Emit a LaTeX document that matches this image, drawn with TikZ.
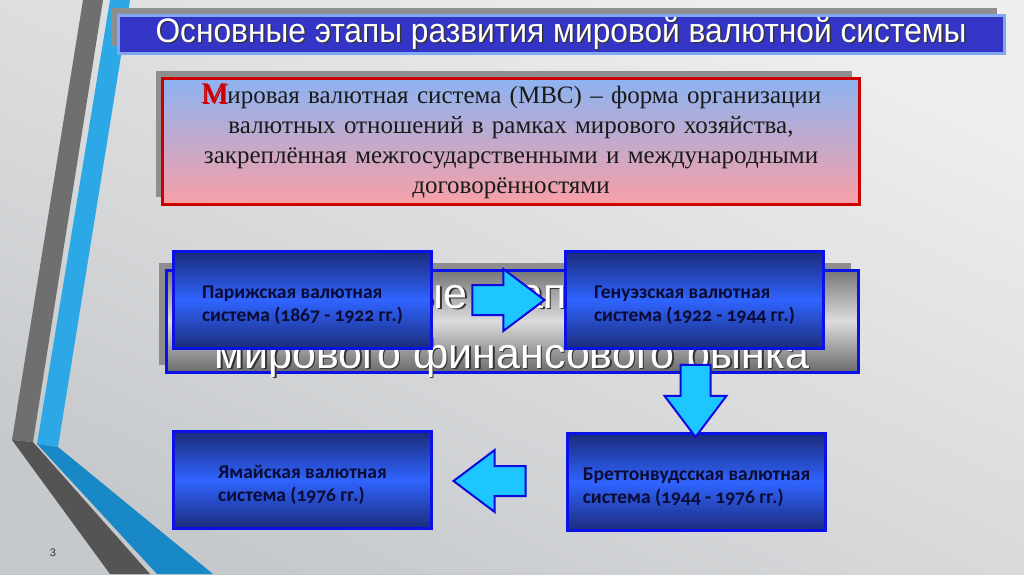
\documentclass[tikz,border=0pt]{standalone}
\usepackage{fontspec}
\setmainfont{Liberation Serif}
\newfontfamily\headfont{Liberation Sans}
\newfontfamily\stagefont[Numbers=OldStyle]{Carlito}
\usetikzlibrary{shapes.arrows,shadows,calc}

\definecolor{bgtop}{HTML}{EEEEEE}
\definecolor{bgbot}{HTML}{C6C9CC}
\definecolor{stripegray}{HTML}{6F6F6F}
\definecolor{stripegraydark}{HTML}{545454}
\definecolor{stripeblue}{HTML}{2CA8E6}
\definecolor{stripebluedark}{HTML}{1888C6}
\definecolor{shadowgray}{HTML}{8E8E8E}
\definecolor{barfill}{HTML}{3434C6}
\definecolor{barrim}{HTML}{80A8F2}
\definecolor{defred}{HTML}{CC0000}
\definecolor{deftop}{HTML}{8CB3F2}
\definecolor{defbot}{HTML}{F8A0A6}
\definecolor{deftext}{HTML}{1A1A1A}
\definecolor{marketdark}{HTML}{767676}
\definecolor{marketlight}{HTML}{DCDCDC}
\definecolor{stagerim}{HTML}{0A12E8}
\definecolor{stagedark}{HTML}{1B2B7A}
\definecolor{stagelight}{HTML}{2F64FF}
\definecolor{stagetext}{HTML}{0B0B33}
\definecolor{arrowcyan}{HTML}{1EC6FF}
\definecolor{arrowrim}{HTML}{0A0AE0}

% text with a small dark shadow
\newcommand{\dropped}[2][black!80]{\makebox[0pt][l]{\hspace{1.5pt}\raisebox{-1.5pt}{\textcolor{#1}{#2}}}#2}

\tikzset{
  slideshadow/.style={general shadow={shadow xshift=-7pt, shadow yshift=7pt, fill=shadowgray}},
  titlebar/.style={draw=barrim, line width=3pt, fill=barfill, minimum width=886pt, minimum height=38pt,
    inner sep=0pt, text=white, font=\headfont\fontsize{34}{34}\selectfont},
  defbox/.style={draw=defred, line width=3pt, top color=deftop, bottom color=defbot,
    minimum width=690pt, minimum height=126pt, text width=690pt, align=center, text=deftext,
    font=\fontsize{25}{30}\selectfont},
  marketbox/.style={draw=stagerim, line width=3pt, top color=marketdark,
    bottom color=marketdark!90!black, middle color=marketlight, minimum width=692pt, minimum height=102pt},
  markettext/.style={anchor=base, text=white, inner sep=0pt, font=\headfont\fontsize{43}{43}\selectfont},
  stagebox/.style={draw=stagerim, line width=3pt, top color=stagedark, bottom color=stagedark,
    middle color=stagelight, minimum width=258pt, minimum height=97pt, align=left, text=stagetext,
    text height=47pt, text depth=5pt, font=\stagefont\bfseries\fontsize{19.5}{23}\selectfont},
  blockarrow/.style={single arrow, draw=arrowrim, line width=2pt, fill=arrowcyan,
    minimum height=72pt, minimum width=60pt, inner xsep=0pt, inner ysep=14pt,
    single arrow head extend=16pt, single arrow tip angle=74}
}

\begin{document}
\begin{tikzpicture}[x=1pt, y=1pt]

\useasboundingbox (0,0) rectangle (1024,-574);
\shade[top color=bgtop, bottom color=bgbot, shading angle=-25] (0,0) rectangle (1024,-574);

% stripes on the left
\fill[stripegray] (83,0)--(103,0)--(33,-442)--(12,-440)--cycle;
\fill[stripegraydark] (12,-440)--(33,-442)--(150,-574)--(110,-574)--cycle;
\fill[stripeblue] (110,0)--(130,0)--(58,-447)--(37,-444)--cycle;
\fill[stripebluedark] (37,-444)--(58,-447)--(213,-574)--(157,-574)--cycle;

\node[titlebar, slideshadow] (title) at (561,-34)
  {\resizebox{811pt}{\height}{\dropped{Основные этапы развития мировой валютной системы}}};

\node[defbox, slideshadow] (defn) at (511,-141)
  {{\fontsize{30}{30}\selectfont\dropped[black!55]{\textcolor{defred}{М}}}ировая валютная система (МВС) – форма организации\\
   валютных отношений в рамках мирового хозяйства,\\
   закреплённая межгосударственными и международными\\
   договорённостями};

\node[marketbox, slideshadow] (market) at (512,-321) {};
\node[markettext] (marketA) at (527,-308) {\dropped{Основные этапы развития}};
\node[markettext] (marketB) at (512,-368) {\dropped{мирового финансового рынка}};

\foreach \n/\x/\y/\t in {
  paris/302.5/-300/{Парижская валютная\\система (1867 - 1922 гг.)},
  genoa/694.5/-300/{Генуэзская валютная\\система (1922 - 1944 гг.)},
  jamaica/302.5/-480/{Ямайская валютная\\система (1976 гг.)},
  bretton/696.5/-482/{Бреттонвудсская валютная\\система (1944 - 1976 гг.)}}
{
  \node[stagebox] (\n) at (\x,\y) {\t};
}

\node[blockarrow] (parisgenoa) at ($(paris.east)!0.5!(genoa.west)$) {};
\node[blockarrow, rotate=-90] (genoabretton) at ($(genoa.south)!0.5!(bretton.north)$) {};
\node[blockarrow, rotate=180] (brettonjamaica) at ($(bretton.west)!0.5!(jamaica.east)$) {};

\node[font=\headfont\fontsize{11}{11}\selectfont, text=black!80] (pagenum) at (53,-553) {3};

\end{tikzpicture}
\end{document}
